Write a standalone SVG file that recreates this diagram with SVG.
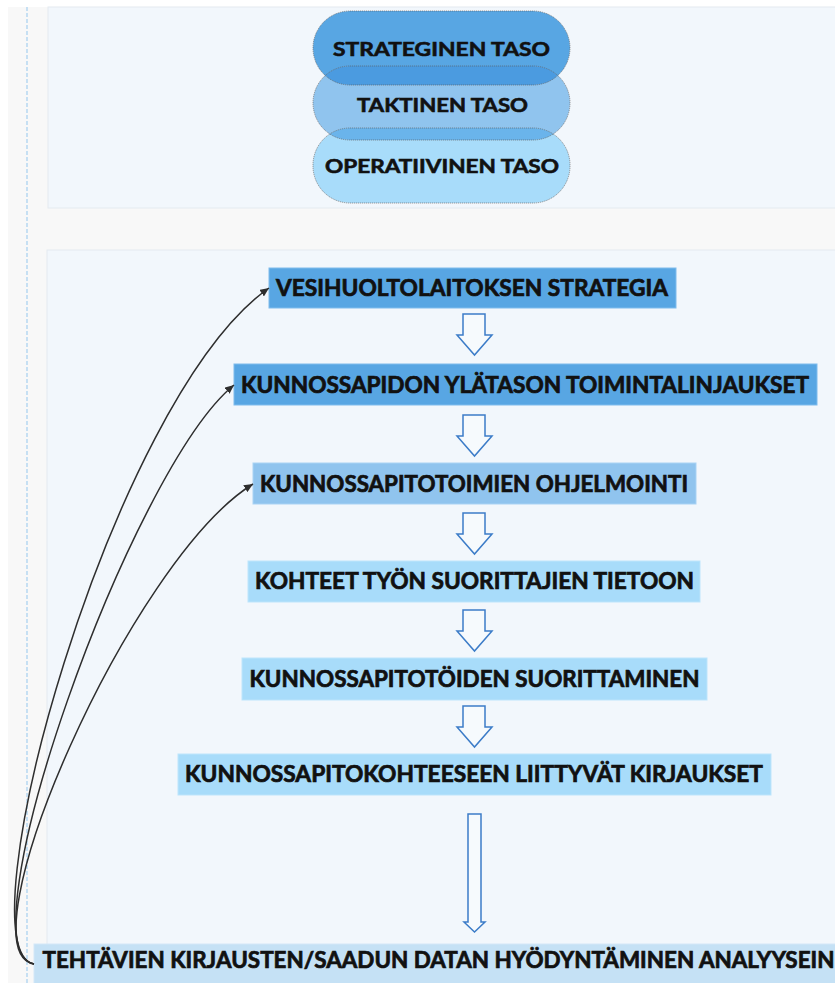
<svg xmlns="http://www.w3.org/2000/svg" width="835" height="983" viewBox="0 0 835 983">
<defs>
<style>
.panel{fill:#f2f7fc;stroke:#e4eaf0;stroke-width:1}
.pill{stroke:#5a5a5a;stroke-width:0.8;stroke-opacity:0.75;stroke-dasharray:1.2 0.8}
.ptxt{font-family:Lato,"Liberation Sans",sans-serif;font-weight:700;font-size:19px;fill:#111;stroke:#111;stroke-width:0.6}
.btxt{font-family:Lato,"Liberation Sans",sans-serif;font-weight:700;font-size:22px;fill:#111;stroke:#111;stroke-width:0.7}
.dark{fill:#58a6e3;stroke:#7fbcec;stroke-width:1}
.mid{fill:#90c4ee;stroke:#a9d3f4;stroke-width:1}
.light{fill:#a8dcfa;stroke:#bde5fb;stroke-width:1}
.pale{fill:#c5e1f5;stroke:#d3e8f8;stroke-width:1}
.hollow{fill:#f6fafd;stroke:#3c7cc8;stroke-width:1.5;stroke-linejoin:miter}
.conn{fill:none;stroke:#2e2e2e;stroke-width:1.5}
</style>
<marker id="ah" markerUnits="userSpaceOnUse" markerWidth="9" markerHeight="8" refX="9" refY="4" orient="auto">
<path d="M0,0 L9,4 L0,8 Z" fill="#2e2e2e"/>
</marker>
<path id="harrow" d="M463,0 L485,0 L485,21 L492,21 L474.5,41 L457,21 L463,21 Z"/>
<clipPath id="c1"><rect x="313" y="11" width="257" height="74" rx="37" ry="37"/></clipPath>
<clipPath id="c2"><rect x="313" y="66" width="257" height="74" rx="37" ry="37"/></clipPath>
</defs>

<rect x="0" y="0" width="835" height="983" fill="#ffffff"/>
<rect x="8" y="7" width="827" height="976" fill="#f8f8f8"/>
<line x1="27" y1="7" x2="27" y2="983" stroke="#a6d0f0" stroke-width="1.2" stroke-dasharray="4 2"/>

<rect class="panel" x="48" y="7" width="800" height="201"/>
<rect class="panel" x="47" y="250" width="800" height="740"/>

<g id="levels">
<g id="strateginen">
<rect x="313" y="11" width="257" height="74" rx="37" ry="37" fill="#58a6e3"/>
</g>
<g id="taktinen">
<rect x="313" y="66" width="257" height="74" rx="37" ry="37" fill="#90c4ee"/>
</g>
<g id="operatiivinen">
<rect x="313" y="128" width="257" height="75" rx="37" ry="37" fill="#a8dcfa"/>
</g>
<rect x="313" y="66" width="257" height="74" rx="37" ry="37" fill="#4b9be0" clip-path="url(#c1)"/>
<rect x="313" y="128" width="257" height="75" rx="37" ry="37" fill="#6ab4eb" clip-path="url(#c2)"/>
<rect class="pill" x="313" y="11" width="257" height="74" rx="37" ry="37" fill="none"/>
<rect class="pill" x="313" y="66" width="257" height="74" rx="37" ry="37" fill="none"/>
<rect class="pill" x="313" y="128" width="257" height="75" rx="37" ry="37" fill="none"/>
<text class="ptxt" x="333" y="56" textLength="217" lengthAdjust="spacingAndGlyphs">STRATEGINEN TASO</text>
<text class="ptxt" x="357" y="112" textLength="171" lengthAdjust="spacingAndGlyphs">TAKTINEN TASO</text>
<text class="ptxt" x="325" y="173" textLength="234" lengthAdjust="spacingAndGlyphs">OPERATIIVINEN TASO</text>
</g>

<g id="n1">
<rect class="dark" x="269" y="268" width="407" height="40"/>
<text class="btxt" x="276" y="296" textLength="392" lengthAdjust="spacingAndGlyphs">VESIHUOLTOLAITOKSEN STRATEGIA</text>
</g>
<g id="n2">
<rect class="dark" x="234" y="364" width="583" height="41"/>
<text class="btxt" x="241" y="393" textLength="568" lengthAdjust="spacingAndGlyphs">KUNNOSSAPIDON YLÄTASON TOIMINTALINJAUKSET</text>
</g>
<g id="n3">
<rect class="mid" x="253" y="463" width="443" height="41"/>
<text class="btxt" x="260" y="492" textLength="428" lengthAdjust="spacingAndGlyphs">KUNNOSSAPITOTOIMIEN OHJELMOINTI</text>
</g>
<g id="n4">
<rect class="light" x="248" y="561" width="452" height="41"/>
<text class="btxt" x="255" y="589" textLength="439" lengthAdjust="spacingAndGlyphs">KOHTEET TYÖN SUORITTAJIEN TIETOON</text>
</g>
<g id="n5">
<rect class="light" x="242" y="658" width="465" height="42"/>
<text class="btxt" x="249.5" y="687" textLength="450" lengthAdjust="spacingAndGlyphs">KUNNOSSAPITOTÖIDEN SUORITTAMINEN</text>
</g>
<g id="n6">
<rect class="light" x="178" y="754" width="593" height="41"/>
<text class="btxt" x="185" y="782" textLength="578" lengthAdjust="spacingAndGlyphs">KUNNOSSAPITOKOHTEESEEN LIITTYVÄT KIRJAUKSET</text>
</g>
<g id="n7">
<rect class="pale" x="34" y="944" width="812" height="45"/>
<text class="btxt" x="42.5" y="968" textLength="792" lengthAdjust="spacingAndGlyphs">TEHTÄVIEN KIRJAUSTEN/SAADUN DATAN HYÖDYNTÄMINEN ANALYYSEIN</text>
</g>

<g id="connectors">
<use href="#harrow" class="hollow" transform="translate(0,314)"/>
<use href="#harrow" class="hollow" transform="translate(0,415)"/>
<use href="#harrow" class="hollow" transform="translate(0,513)"/>
<use href="#harrow" class="hollow" transform="translate(0,610)"/>
<use href="#harrow" class="hollow" transform="translate(0,706)"/>
<path class="hollow" d="M468,814 L481,814 L481,922 L485,922 L474.5,932 L464,922 L468,922 Z"/>
<path class="conn" marker-end="url(#ah)" d="M34,964 C-40,950 110,400 269,288"/>
<path class="conn" marker-end="url(#ah)" d="M34,964 C-40,950 130,470 234,385"/>
<path class="conn" marker-end="url(#ah)" d="M34,964 C-40,950 130,560 253,484"/>
</g>
</svg>
